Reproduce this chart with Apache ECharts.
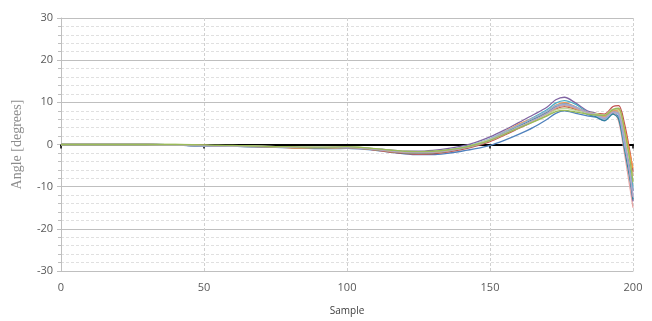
<!DOCTYPE html>
<html><head><meta charset="utf-8">
<script src="https://cdn.jsdelivr.net/npm/echarts@6/dist/echarts.min.js"></script>
<style>html,body{margin:0;padding:0;background:#fff}#c{width:652px;height:321px}</style>
</head><body><div id="c"></div>
<script>
var samples = [0,10,20,30,40,50,55,60,65,70,75,80,85,90,95,100,105,110,115,120,125,130,135,140,145,150,155,160,165,170,173,176,180,184,187,190,193,195,197,199,200];
var s1 = [0,0,0,0,-0.1,-0.3,-0.3,-0.3,-0.4,-0.5,-0.6,-0.7,-0.8,-0.8,-0.7,-0.6,-0.8,-1.0,-1.3,-1.6,-1.6,-1.4,-1.0,-0.4,0.5,1.8,3.4,5.2,7.0,8.9,10.6,11.2,9.8,8.0,7.4,6.6,8.2,7.8,1.0,-8.0,-13.5];
var s2 = [0,0,0,0,-0.1,-0.3,-0.3,-0.4,-0.4,-0.5,-0.6,-0.7,-0.7,-0.8,-0.8,-0.7,-0.9,-1.2,-1.5,-1.8,-1.9,-1.8,-1.4,-0.8,0.1,1.3,2.9,4.6,6.4,8.3,9.8,10.4,9.5,7.7,7.2,6.2,7.8,7.3,0.5,-6.5,-10.2];
var s3 = [0,0,0,0,-0.1,-0.2,-0.3,-0.3,-0.4,-0.5,-0.6,-0.8,-0.9,-0.9,-0.8,-0.7,-0.9,-1.2,-1.6,-1.9,-2.0,-1.9,-1.5,-0.9,0.0,1.2,3.0,4.8,6.2,7.8,9.3,9.9,8.9,7.6,7.3,6.8,8.0,8.3,4.0,-2.5,-5.6];
var s4 = [0,0,0,0,-0.1,-0.3,-0.3,-0.4,-0.5,-0.6,-0.7,-0.7,-0.8,-0.9,-0.9,-0.8,-1.0,-1.3,-1.7,-2.0,-2.2,-2.1,-1.7,-1.0,-0.1,1.0,2.6,4.3,6.0,7.8,9.3,9.7,8.7,7.5,7.0,6.0,7.6,5.5,-2.0,-10.5,-15.0];
var s5 = [0,0,0,0,-0.1,-0.3,-0.3,-0.3,-0.4,-0.4,-0.5,-0.6,-0.7,-0.7,-0.7,-0.6,-0.8,-1.1,-1.5,-1.8,-1.9,-1.8,-1.5,-0.9,-0.1,1.0,2.5,4.1,5.7,7.4,8.8,9.4,8.7,7.6,7.1,6.3,7.7,7.4,1.5,-7.5,-12.5];
var s6 = [0,0,0,0,-0.1,-0.2,-0.3,-0.3,-0.4,-0.5,-0.6,-0.7,-0.8,-0.8,-0.7,-0.6,-0.9,-1.3,-1.8,-2.1,-2.3,-2.2,-1.8,-1.2,-0.4,0.7,2.2,3.8,5.4,7.0,8.4,9.0,8.3,7.5,7.4,7.2,9.0,9.2,5.0,-2.0,-6.6];
var s7 = [0,0,0,0,0,-0.1,-0.2,-0.2,-0.3,-0.4,-0.5,-0.5,-0.6,-0.6,-0.6,-0.5,-0.7,-1.0,-1.3,-1.6,-1.7,-1.6,-1.3,-0.8,0.0,1.0,2.4,3.9,5.3,6.8,7.8,8.1,7.7,7.2,7.0,6.9,8.3,8.6,3.5,-4.0,-9.0];
var s8 = [0,0,0,0,-0.1,-0.4,-0.4,-0.4,-0.5,-0.6,-0.7,-0.8,-0.9,-1.0,-1.0,-0.9,-1.1,-1.4,-1.8,-2.2,-2.4,-2.4,-2.1,-1.6,-1.0,-0.2,1.0,2.4,4.0,6.0,7.4,8.0,7.4,6.8,6.5,5.6,7.4,6.5,0.5,-6.0,-11.0];
var s9 = [0,0,0,0,-0.1,-0.3,-0.3,-0.3,-0.4,-0.5,-0.5,-0.6,-0.7,-0.7,-0.7,-0.6,-0.8,-1.1,-1.4,-1.7,-1.8,-1.7,-1.3,-0.7,0.2,1.4,3.0,4.6,6.2,7.9,9.2,9.6,8.9,7.4,6.9,6.0,7.6,7.0,0.0,-7.0,-12.0];
var s10 = [0,0,0,0,0,-0.2,-0.2,-0.3,-0.3,-0.4,-0.5,-0.6,-0.6,-0.7,-0.6,-0.5,-0.7,-1.0,-1.4,-1.7,-1.8,-1.7,-1.4,-0.8,0.1,1.2,2.6,4.1,5.6,7.1,8.2,8.6,8.1,7.5,7.3,6.9,8.4,8.0,2.5,-4.5,-8.5];
var s11 = [0,0,0,0,-0.1,-0.2,-0.3,-0.3,-0.4,-0.5,-0.6,-0.7,-0.8,-0.8,-0.8,-0.7,-0.9,-1.2,-1.6,-1.9,-2.0,-1.9,-1.6,-1.0,-0.2,0.9,2.4,4.0,5.6,7.3,8.7,9.2,8.5,7.6,7.2,6.6,8.0,7.8,3.0,-4.0,-7.5];
var s12 = [0,0,0,0,-0.1,-0.3,-0.3,-0.4,-0.5,-0.5,-0.6,-0.7,-0.8,-0.9,-0.8,-0.7,-0.9,-1.2,-1.6,-2.0,-2.1,-2.0,-1.6,-1.0,-0.2,1.0,2.6,4.3,5.9,7.6,9.0,9.6,8.8,7.2,6.6,5.7,7.2,6.0,-1.0,-8.5,-13.0];
var seriesList = [s8,s4,s6,s1,s2,s3,s12,s11,s9,s10,s5,s7];
var colors = ['#4F81BD','#E6A5A4','#C0504D','#8064A2','#4BACC6','#F79646','#31859C','#E0A070','#95B3D7','#C3D69B','#B3A2C7','#9BBB59'];
var xTicks = [0,50,100,150,200];
var yTicks = [-30,-20,-10,0,10,20,30];

var chart = echarts.init(document.getElementById('c'), null, {renderer:'canvas'});
var series = seriesList.map(function(arr, i){
  return {
    type:'line', xAxisIndex:0, yAxisIndex:0, showSymbol:false, smooth:0.3,
    lineStyle:{width:1.3, color:colors[i]}, itemStyle:{color:colors[i]},
    data: samples.map(function(s, j){ return [s, arr[j]]; }), z:3, animation:false
  };
});
chart.setOption({
  animation:false,
  grid:{left:61, right:19, top:18, bottom:50},
  xAxis:[{
    type:'value', min:xTicks[0], max:xTicks[xTicks.length-1], interval:50, position:'bottom',
    axisLine:{onZero:false, lineStyle:{color:'#BFBFBF', width:1}},
    axisTick:{show:false},
    axisLabel:{color:'#595959', fontFamily:'Open Sans', fontSize:11, margin:11},
    splitLine:{show:true, lineStyle:{color:'#D0D0D0', type:[3,2], width:1}},
    name:'Sample', nameLocation:'middle', nameGap:35,
    nameTextStyle:{color:'#404040', fontFamily:'Open Sans', fontSize:10}
  },{
    type:'value', min:0, max:200, interval:50, position:'bottom',
    axisLine:{onZero:true, lineStyle:{color:'#000', width:2}},
    axisTick:{show:true, inside:false, length:4, lineStyle:{color:'#000', width:1.5}},
    axisLabel:{show:false}, splitLine:{show:false}
  }],
  yAxis:{
    type:'value', min:yTicks[0], max:yTicks[yTicks.length-1], interval:10,
    axisLine:{show:true, lineStyle:{color:'#BFBFBF'}},
    axisTick:{show:true, length:4, lineStyle:{color:'#BFBFBF'}},
    minorTick:{show:true, splitNumber:5, length:3, lineStyle:{color:'#BFBFBF'}},
    axisLabel:{color:'#595959', fontFamily:'Open Sans', fontSize:11, margin:8},
    splitLine:{show:true, lineStyle:{color:'#BFBFBF', width:1}},
    minorSplitLine:{show:true, lineStyle:{color:'#E0E0E0', type:[3,2], width:1}},
    name:'Angle [degrees]', nameLocation:'middle', nameGap:37,
    nameTextStyle:{color:'#8C8C8C', fontFamily:'Liberation Serif', fontSize:14}
  },
  series: series
});
</script></body></html>
